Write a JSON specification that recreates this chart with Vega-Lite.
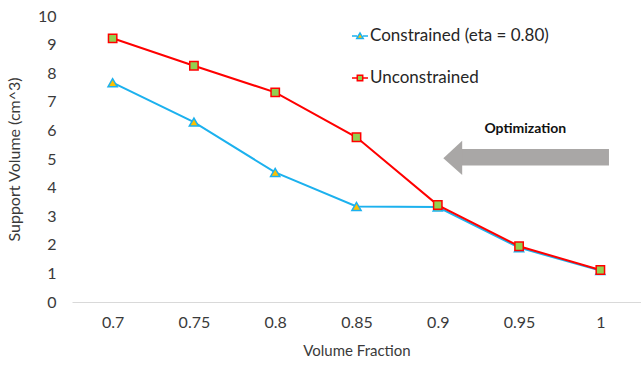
{
  "$schema": "https://vega.github.io/schema/vega-lite/v6.json",
  "width": 569,
  "height": 286,
  "autosize": {"type": "none"},
  "padding": {"left": 72, "top": 16, "right": 0, "bottom": 63},
  "background": "white",
  "config": {
    "view": {"stroke": null},
    "font": "Lato",
    "axis": {"labelFont": "Lato", "titleFont": "Lato", "labelColor": "#3a3a3a", "titleColor": "#3a3a3a", "titleFontWeight": "normal", "grid": false, "ticks": false},
    "legend": {
      "title": null, "orient": "none", "legendX": 279, "legendY": 11, "padding": 0,
      "labelFontSize": 17, "labelColor": "#262626", "labelFont": "Lato", "labelLimit": 0, "rowPadding": 25, "labelOffset": 1,
      "symbolSize": 256, "symbolStrokeWidth": 1.5
    }
  },
  "encoding": {
    "x": {
      "field": "vf", "type": "quantitative",
      "scale": {"domain": [0.675, 1.025], "nice": false, "zero": false},
      "axis": {"title": "Volume Fraction", "values": [0.7, 0.75, 0.8, 0.85, 0.9, 0.95, 1], "format": "~g", "labelFontSize": 16, "titleFontSize": 15, "labelPadding": 12, "titlePadding": 13, "domainColor": "#d9d9d9", "domainWidth": 1, "labelFlush": false}
    },
    "y": {
      "field": "sv", "type": "quantitative",
      "scale": {"domain": [0, 10], "nice": false},
      "axis": {"title": "Support Volume (cm^3)", "values": [0, 1, 2, 3, 4, 5, 6, 7, 8, 9, 10], "domain": false, "labelFontSize": 16, "titleFontSize": 16, "labelPadding": 16, "titlePadding": 15}
    }
  },
  "layer": [
    {
      "data": {"values": [
        {"vf": 0.9145, "vf2": 1.0053, "sv": 4.77, "sv2": 5.35}
      ]},
      "mark": {"type": "rect", "color": "#A9A7A6"},
      "encoding": {"x2": {"field": "vf2"}, "y2": {"field": "sv2"}}
    },
    {
      "data": {"values": [
        {"vf": 0.9034, "sv": 5.03, "sv2": 5.03},
        {"vf": 0.9150, "sv": 5.64, "sv2": 4.44}
      ]},
      "mark": {"type": "area", "color": "#A9A7A6", "orient": "vertical", "interpolate": "linear"},
      "encoding": {"y2": {"field": "sv2"}}
    },
    {
      "data": {"values": [{"vf": 0.9538, "sv": 6.05, "label": "Optimization"}]},
      "mark": {"type": "text", "fontWeight": "bold", "fontSize": 14, "color": "#111111", "font": "Lato"},
      "encoding": {"text": {"field": "label"}}
    },
    {
      "data": {"name": "series"},
      "mark": {"type": "line", "strokeWidth": 2},
      "encoding": {
        "stroke": {"field": "series", "type": "nominal", "scale": {"domain": ["Constrained (eta = 0.80)", "Unconstrained"], "range": ["#1CB1EE", "#FF0000"]},
          "legend": {"encode": {"symbols": {"update": {"shape": {"signal": "datum.value === 'Unconstrained' ? 'M-1,0H-0.34M-0.34,-0.34H0.34V0.34H-0.34ZM0.34,0H1' : 'M-1,0H-0.36M-0.4,0.3L0,-0.38L0.4,0.3ZM0.36,0H1'"}}}}}}
      }
    },
    {
      "data": {"name": "series"},
      "transform": [{"filter": "datum.series === 'Constrained (eta = 0.80)'"}],
      "mark": {"type": "point", "shape": "triangle-up", "filled": true, "size": 85, "strokeWidth": 1.5, "opacity": 1},
      "encoding": {
        "stroke": {"field": "series", "type": "nominal", "scale": {"domain": ["Constrained (eta = 0.80)", "Unconstrained"], "range": ["#1CB1EE", "#FF0000"]}},
        "fill": {"field": "series", "type": "nominal", "scale": {"domain": ["Constrained (eta = 0.80)", "Unconstrained"], "range": ["#FFC000", "#92D050"]}}
      }
    },
    {
      "data": {"name": "series"},
      "transform": [{"filter": "datum.series === 'Unconstrained'"}],
      "mark": {"type": "point", "shape": "square", "filled": true, "size": 70, "strokeWidth": 1.5, "opacity": 1},
      "encoding": {
        "stroke": {"field": "series", "type": "nominal", "scale": {"domain": ["Constrained (eta = 0.80)", "Unconstrained"], "range": ["#1CB1EE", "#FF0000"]}},
        "fill": {"field": "series", "type": "nominal", "scale": {"domain": ["Constrained (eta = 0.80)", "Unconstrained"], "range": ["#FFC000", "#92D050"]}}
      }
    }
  ],
  "datasets": {
    "series": [
      {"series": "Constrained (eta = 0.80)", "vf": 0.7, "sv": 7.67},
      {"series": "Constrained (eta = 0.80)", "vf": 0.75, "sv": 6.29},
      {"series": "Constrained (eta = 0.80)", "vf": 0.8, "sv": 4.53},
      {"series": "Constrained (eta = 0.80)", "vf": 0.85, "sv": 3.34},
      {"series": "Constrained (eta = 0.80)", "vf": 0.9, "sv": 3.32},
      {"series": "Constrained (eta = 0.80)", "vf": 0.95, "sv": 1.9},
      {"series": "Constrained (eta = 0.80)", "vf": 1, "sv": 1.1},
      {"series": "Unconstrained", "vf": 0.7, "sv": 9.22},
      {"series": "Unconstrained", "vf": 0.75, "sv": 8.26},
      {"series": "Unconstrained", "vf": 0.8, "sv": 7.33},
      {"series": "Unconstrained", "vf": 0.85, "sv": 5.76},
      {"series": "Unconstrained", "vf": 0.9, "sv": 3.39},
      {"series": "Unconstrained", "vf": 0.95, "sv": 1.95},
      {"series": "Unconstrained", "vf": 1, "sv": 1.12}
    ]
  }
}
